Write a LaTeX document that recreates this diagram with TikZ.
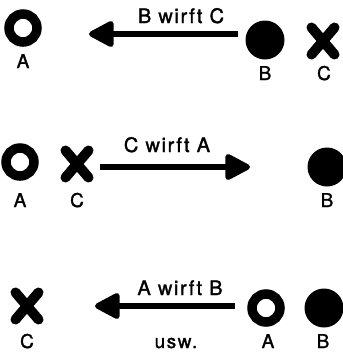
\documentclass[tikz,border=0pt]{standalone}
\usepackage{fontspec}
\setmainfont{TeX Gyre Heros}
\newfontfamily\lblfont[LetterSpace=8,FakeBold=1.5]{TeX Gyre Heros}
\usetikzlibrary{arrows.meta}
\tikzset{
  ring/.style={circle, draw, line width=9.5pt, minimum size=28pt, inner sep=0pt},
  disc/.style={circle, fill, minimum size=39pt, inner sep=0pt},
  lab/.style={font=\lblfont\fontsize{19}{19}\selectfont, anchor=base, inner sep=0pt},
  capt/.style={font=\lblfont\fontsize{20}{20}\selectfont, anchor=base, inner sep=0pt},
  throw/.style={line width=5.5pt, -{Triangle[length=28pt,width=28pt,round]}},
  xm/.pic={\draw[line width=10pt, line cap=round] (-11.5,-13.5) -- (11.5,13.5) (-11.5,13.5) -- (11.5,-13.5);}
}
\begin{document}
\begin{tikzpicture}[x=1pt,y=1pt]
\useasboundingbox (0,0) rectangle (343,-354);
% row 1
\node[ring] (a1) at (23,-28) {};
\node[lab] (la1) at (23,-68) {A};
\node[disc] (b1) at (265,-40) {};
\node[lab] (lb1) at (265,-80) {B};
\coordinate (c1) at (323,-41);
\pic at (c1) {xm};
\node[lab] (lc1) at (324,-80) {C};
\node[capt] (t1) at (181,-23) {B wirft C};
\coordinate (s1) at (238,-34);
\coordinate (e1) at (89,-34);
\draw[throw] (s1) -- (e1);
% row 2
\node[ring] (a2) at (20,-162) {};
\node[lab] (la2) at (20,-207) {A};
\coordinate (c2) at (77,-164);
\pic at (c2) {xm};
\node[lab] (lc2) at (77,-207) {C};
\node[disc] (b2) at (327,-167) {};
\node[lab] (lb2) at (327,-207) {B};
\node[capt] (t2) at (167,-152) {C wirft A};
\coordinate (s2) at (100,-167);
\coordinate (e2) at (250,-167);
\draw[throw] (s2) -- (e2);
% row 3
\coordinate (c3) at (27,-306);
\pic at (c3) {xm};
\node[lab] (lc3) at (27,-348) {C};
\node[ring] (a3) at (266,-308) {};
\node[lab] (la3) at (268,-348) {A};
\node[disc] (b3) at (324,-308) {};
\node[lab] (lb3) at (323,-348) {B};
\node[capt] (t3) at (180,-295) {A wirft B};
\node[lab] (u3) at (176,-348) {usw.};
\coordinate (s3) at (235,-306);
\coordinate (e3) at (95,-306);
\draw[throw] (s3) -- (e3);
\end{tikzpicture}
\end{document}
